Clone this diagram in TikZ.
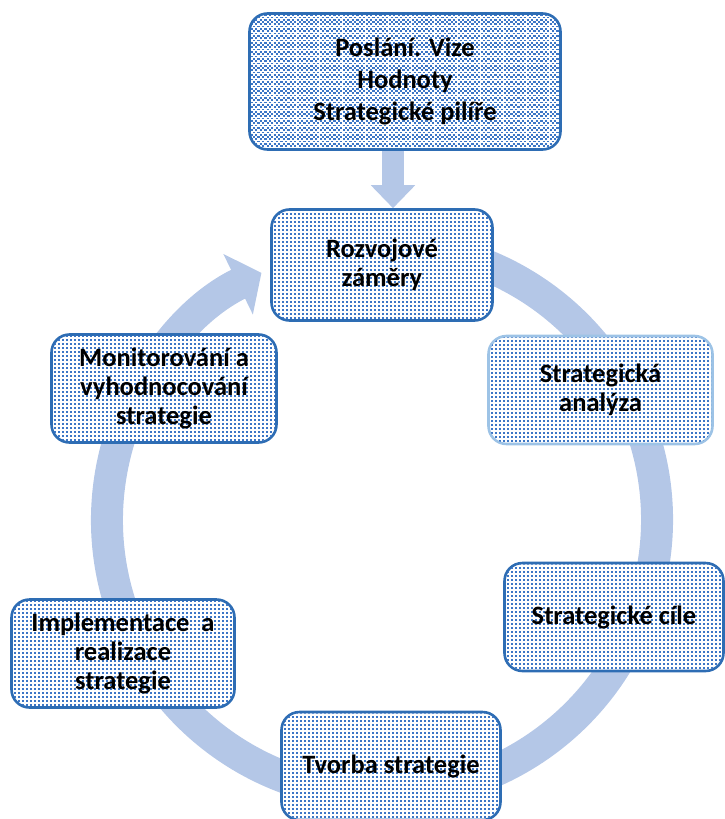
\documentclass[tikz,border=0pt]{standalone}
\usepackage{fontspec}
\setmainfont{Carlito}
\usepackage{tikz}
\usetikzlibrary{arrows.meta,positioning,calc}
\usepackage{xcolor}
\definecolor{ringblue}{HTML}{B4C7E7}
\definecolor{boxline}{HTML}{2E6DB4}
\definecolor{boxlinelight}{HTML}{9DC3E6}
\definecolor{dotblue}{HTML}{3C76C6}

% dotted fill inside a box, one dashed line per row of dots
% #1 node, #2 row step, #3 dot length, #4 gap, #5 dot height, #6 shift of every other row
\newcommand{\dotgrid}[6]{%
  \begin{scope}
    \clip[rounded corners=16pt] ([shift={(2.6,-2.6)}]#1.south west) rectangle ([shift={(-2.6,2.6)}]#1.north east);
    \path (#1.south west); \pgfgetlastxy{\xa}{\ya}
    \path (#1.north east); \pgfgetlastxy{\xb}{\yb}
    \pgfmathtruncatemacro\ny{(\yb-\ya)/#2}
    \foreach \j in {0,...,\ny}{
      \pgfmathsetmacro\ph{mod(\j,2)*#6}
      \draw[dotblue, line width=#5, dash pattern=on #3 off #4, dash phase=\ph pt]
        (\xa,{\ya+\j*#2*1pt}) -- (\xb,{\ya+\j*#2*1pt});
    }
  \end{scope}}

\begin{document}
\begin{tikzpicture}[x=1pt,y=-1pt,
    stage/.style={draw=boxline, line width=2.6pt, rounded corners=18pt, fill=white,
      minimum width=#1, minimum height=108pt, align=center, inner sep=0pt,
      font=\fontsize{26.5}{29}\selectfont\bfseries},
    stage/.default=221pt,
    label/.style={align=center, font=\fontsize{26.5}{29}\selectfont\bfseries}]
  \useasboundingbox (0,0) rectangle (724,819);
  % cycle ring behind the boxes
  \coordinate (hub) at (382,520);
  \draw[ringblue, line width=32pt, -{Triangle[width=66pt,length=26pt]}]
    ($(hub)+(-80:275)$) arc[start angle=-80, end angle=244, radius=275];
  % boxes, dots first, text on top
  \node[stage=311pt, minimum height=136pt] (mission) at (405,81.5) {};
  \node[stage, minimum height=111pt] (rozvoj) at (382,265) {};
  \node[stage=224pt, draw=boxlinelight] (analyza) at (600.5,390) {};
  \node[stage=219pt] (cile) at (614,617) {};
  \node[stage=219pt] (tvorba) at (391,766) {};
  \node[stage=223pt] (impl) at (123,653.5) {};
  \node[stage=225pt] (monitor) at (164,388.5) {};
  \dotgrid{mission}{2.3}{2.2pt}{2.4pt}{1.7pt}{2.3}
  \foreach \b in {rozvoj,analyza,cile,tvorba,impl,monitor}{\dotgrid{\b}{4}{1.9pt}{2.1pt}{1.9pt}{0}}
  \node[label, font=\fontsize{26.5}{32}\selectfont\bfseries] at (mission) {Poslání. Vize\\Hodnoty\\Strategické pilíře};
  \node[label] at (rozvoj) {Rozvojové\\záměry};
  \node[label] at (analyza) {Strategická\\analýza};
  \node[label] at (cile) {Strategické cíle};
  \node[label] at (tvorba) {Tvorba strategie};
  \node[label] at (impl) {Implementace~ a\\realizace\\strategie};
  \node[label] at (monitor) {Monitorování a\\vyhodnocování\\strategie};
  \draw[ringblue, line width=22pt, -{Triangle[width=43pt,length=23pt]}]
    ([xshift=-12pt]mission.south) -- ([xshift=11pt]rozvoj.north);
\end{tikzpicture}
\end{document}
